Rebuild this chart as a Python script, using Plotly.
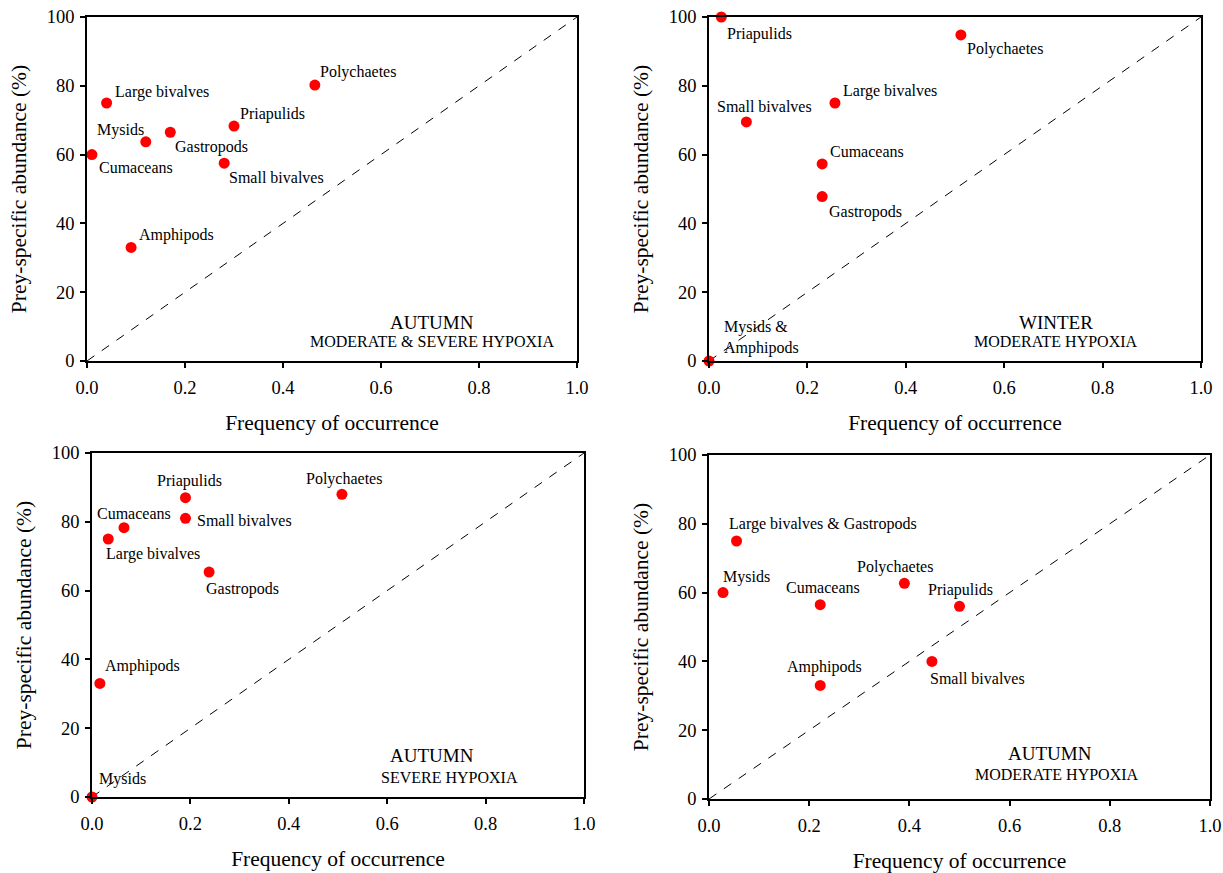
import plotly.graph_objects as go

# ---------------- data ----------------
p1_names = ["Polychaetes", "Large bivalves", "Priapulids", "Mysids", "Gastropods",
            "Cumaceans", "Small bivalves", "Amphipods"]
p1_freq = [0.465, 0.04, 0.30, 0.12, 0.17, 0.01, 0.28, 0.09]
p1_abund = [80.2, 75.0, 68.3, 63.7, 66.5, 60.0, 57.5, 33.0]

p2_names = ["Priapulids", "Polychaetes", "Large bivalves", "Small bivalves",
            "Cumaceans", "Gastropods", "Mysids &<br>Amphipods"]
p2_freq = [0.025, 0.512, 0.256, 0.076, 0.23, 0.23, 0.0]
p2_abund = [100.0, 94.8, 75.0, 69.5, 57.3, 47.8, 0.0]

p3_names = ["Polychaetes", "Priapulids", "Small bivalves", "Cumaceans",
            "Large bivalves", "Gastropods", "Amphipods", "Mysids"]
p3_freq = [0.508, 0.19, 0.19, 0.065, 0.033, 0.238, 0.016, 0.0]
p3_abund = [88.0, 87.0, 81.0, 78.3, 75.0, 65.4, 33.0, 0.0]

p4_names = ["Large bivalves & Gastropods", "Mysids", "Cumaceans", "Polychaetes",
            "Priapulids", "Small bivalves", "Amphipods"]
p4_freq = [0.055, 0.028, 0.222, 0.39, 0.50, 0.445, 0.222]
p4_abund = [75.0, 60.0, 56.5, 62.7, 56.0, 40.0, 33.0]

season_titles = ["AUTUMN", "WINTER", "AUTUMN", "AUTUMN"]
season_subtitles = ["MODERATE & SEVERE HYPOXIA", "MODERATE HYPOXIA",
                    "SEVERE HYPOXIA", "MODERATE HYPOXIA"]

x_ticks = [0.0, 0.2, 0.4, 0.6, 0.8, 1.0]
y_ticks = [0, 20, 40, 60, 80, 100]
x_title = "Frequency of occurrence"
y_title = "Prey-specific abundance (%)"

# ---------------- styles (label placement offsets in px: anchor, dx, dy-down) ----------------
p1_off = [("left", 3, -13), ("left", 6, -11), ("left", 4, -12), ("right", 0, -12),
          ("left", 3, 15), ("left", 5, 13), ("left", 3, 14), ("left", 6, -12)]
p2_off = [("left", 4, 17), ("left", 4, 14), ("left", 6, -12), ("left", -31, -15),
          ("left", 6, -12), ("left", 5, 15), ("left", 13, -24)]
p3_off = [("center", 2, -15), ("center", 4, -17), ("left", 10, 2), ("center", 10, -14),
          ("left", -4, 15), ("left", -5, 17), ("left", 3, -17), ("left", 5, -18)]
p4_off = [("left", -10, -17), ("left", -2, -16), ("center", 3, -17), ("center", -9, -16),
          ("center", 1, -16), ("left", -4, 17), ("center", 4, -18)]

W, H = 1223, 873
# plot-area pixel boxes in screen coords: (left, right, top, bottom)
boxes = [(87, 577, 17, 361), (709, 1201, 17, 361), (92, 584, 453, 797), (709, 1210, 455, 799)]
season_pos = [((0.704, 0.113), (0.704, 0.058)),
              ((0.705, 0.113), (0.705, 0.058)),
              ((0.691, 0.122), (0.726, 0.058)),
              ((0.680, 0.131), (0.695, 0.070))]

FONT = "Liberation Serif"
panels = [(p1_names, p1_freq, p1_abund, p1_off),
          (p2_names, p2_freq, p2_abund, p2_off),
          (p3_names, p3_freq, p3_abund, p3_off),
          (p4_names, p4_freq, p4_abund, p4_off)]

fig = go.Figure()
annotations = []
layout_axes = {}

for i, (names, fx, fy, offs) in enumerate(panels):
    n = i + 1
    xa = "x" if n == 1 else f"x{n}"
    ya = "y" if n == 1 else f"y{n}"
    l, r, t, b = boxes[i]
    layout_axes["xaxis" if n == 1 else f"xaxis{n}"] = dict(
        domain=[l / W, r / W], range=[0, 1], anchor=ya, automargin=False,
        tickvals=x_ticks, ticktext=[f"{v:.1f}" for v in x_ticks],
        showline=True, mirror=True, linecolor="black", linewidth=1.5,
        ticks="outside", ticklen=5, tickwidth=1.5, tickcolor="black",
        showgrid=False, zeroline=False, ticklabeloverflow="allow", ticklabelstandoff=4,
        tickfont=dict(family=FONT, size=18.5, color="black"),
        title=dict(text=x_title, font=dict(family=FONT, size=21.5, color="black"), standoff=18),
    )
    layout_axes["yaxis" if n == 1 else f"yaxis{n}"] = dict(
        domain=[1 - b / H, 1 - t / H], range=[0, 100], anchor=xa, automargin=False,
        tickvals=y_ticks,
        showline=True, mirror=True, linecolor="black", linewidth=1.5,
        ticks="outside", ticklen=5, tickwidth=1.5, tickcolor="black",
        showgrid=False, zeroline=False, ticklabeloverflow="allow", ticklabelstandoff=2,
        tickfont=dict(family=FONT, size=18.5, color="black"),
        title=dict(text=y_title, font=dict(family=FONT, size=21.5, color="black"), standoff=14),
    )
    # 1:1 dashed diagonal
    fig.add_trace(go.Scatter(x=[0, 1], y=[0, 100], mode="lines", xaxis=xa, yaxis=ya,
                             line=dict(color="black", width=1, dash="dash"),
                             hoverinfo="skip", showlegend=False))
    fig.add_trace(go.Scatter(x=fx, y=fy, mode="markers", xaxis=xa, yaxis=ya,
                             marker=dict(color="#ff0000", size=11),
                             cliponaxis=False, text=names, showlegend=False))
    for name, x, y, (anc, dx, dy) in zip(names, fx, fy, offs):
        annotations.append(dict(x=x, y=y, xref=xa, yref=ya, text=name, showarrow=False,
                                xanchor=anc, yanchor="middle", align="left",
                                xshift=dx, yshift=-dy,
                                font=dict(family=FONT, size=16, color="black")))
    (tx, ty), (sx, sy) = season_pos[i]
    annotations.append(dict(x=tx, y=ty, xref=f"{xa} domain", yref=f"{ya} domain",
                            text=season_titles[i], showarrow=False, xanchor="center",
                            yanchor="middle", font=dict(family=FONT, size=19, color="black")))
    annotations.append(dict(x=sx, y=sy, xref=f"{xa} domain", yref=f"{ya} domain",
                            text=season_subtitles[i], showarrow=False, xanchor="center",
                            yanchor="middle", font=dict(family=FONT, size=16, color="black")))

fig.update_layout(
    width=W, height=H, margin=dict(l=0, r=0, t=0, b=0, autoexpand=False),
    paper_bgcolor="white", plot_bgcolor="white",
    font=dict(family=FONT, color="black"),
    annotations=annotations, showlegend=False, **layout_axes,
)

fig.write_html(
    "out.html",
    config={"displayModeBar": False},
    post_script="document.body.style.margin='0';document.body.style.overflow='hidden';",
)
